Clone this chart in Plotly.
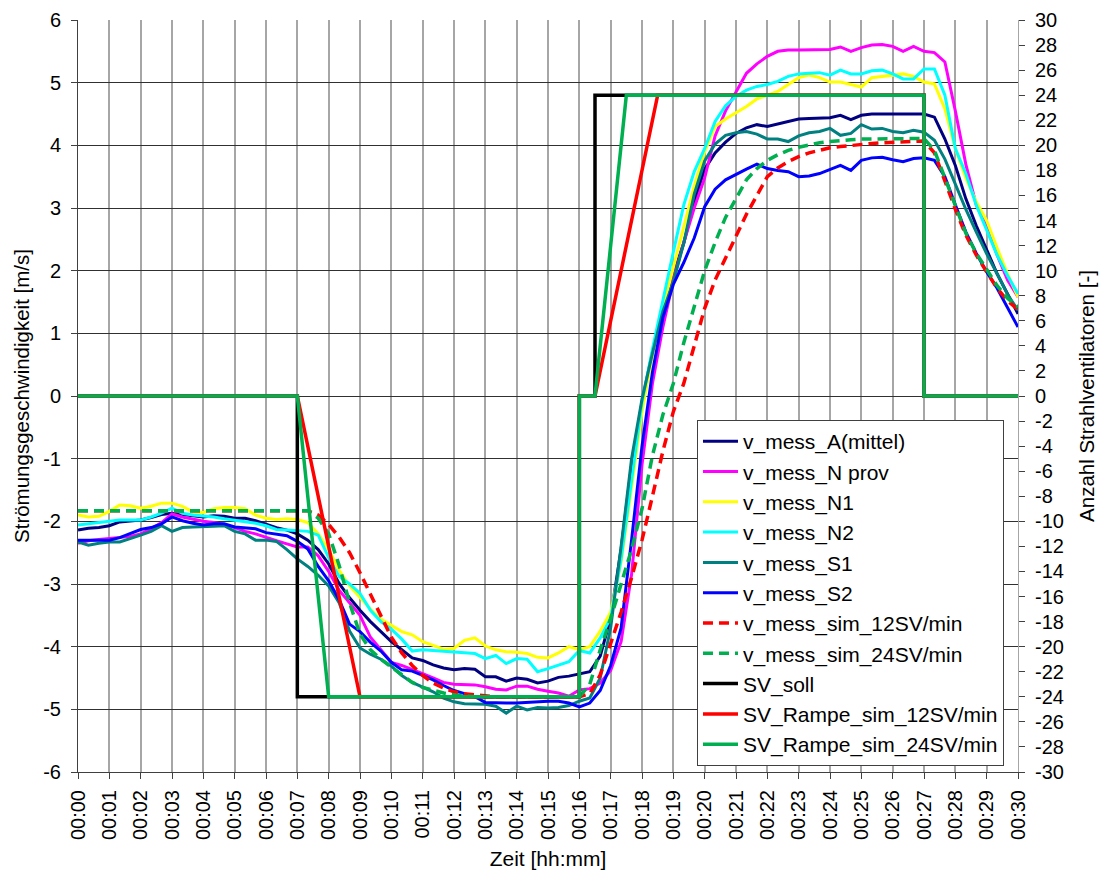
import plotly.graph_objects as go

# time base: one sample every 20 s, expressed in minutes
zeit_s = list(range(0, 1801, 20))
zeit_min = [s / 60 for s in zeit_s]

tick_minutes = list(range(31))
tick_labels = ["00:00", "00:01", "00:02", "00:03", "00:04", "00:05", "00:06", "00:07",
               "00:08", "00:09", "00:10", "00:11", "00:12", "00:13", "00:14", "00:15",
               "00:16", "00:17", "00:18", "00:19", "00:20", "00:21", "00:22", "00:23",
               "00:24", "00:25", "00:26", "00:27", "00:28", "00:29", "00:30"]

# left axis ticks [m/s] and right axis ticks [-], written with plain hyphens
v_ticks = [-6, -5, -4, -3, -2, -1, 0, 1, 2, 3, 4, 5, 6]
v_tick_labels = ["-6", "-5", "-4", "-3", "-2", "-1", "0", "1", "2", "3", "4", "5", "6"]
sv_ticks = [-30, -28, -26, -24, -22, -20, -18, -16, -14, -12, -10, -8, -6, -4, -2, 0,
            2, 4, 6, 8, 10, 12, 14, 16, 18, 20, 22, 24, 26, 28, 30]
sv_tick_labels = ["-30", "-28", "-26", "-24", "-22", "-20", "-18", "-16", "-14", "-12",
                  "-10", "-8", "-6", "-4", "-2", "0", "2", "4", "6", "8", "10", "12",
                  "14", "16", "18", "20", "22", "24", "26", "28", "30"]

# measured flow velocities [m/s]
v_mess_A = [
    -2.14, -2.11, -2.10, -2.07, -2.01, -1.99, -1.98, -1.94, -1.89, -1.87, -1.89, -1.91,
    -1.93, -1.91, -1.92, -1.95, -1.95, -1.99, -2.05, -2.10, -2.14, -2.20, -2.30, -2.45,
    -2.68, -2.99, -3.22, -3.42, -3.60, -3.76, -3.92, -4.05, -4.18, -4.22, -4.29, -4.34,
    -4.37, -4.35, -4.36, -4.48, -4.48, -4.55, -4.50, -4.52, -4.58, -4.55, -4.49, -4.47,
    -4.44, -4.40, -4.15, -3.54, -2.44, -1.10, -0.10, 0.70, 1.40, 1.95, 2.44, 3.10,
    3.62, 3.88, 4.05, 4.19, 4.28, 4.33, 4.30, 4.34, 4.39, 4.42, 4.43, 4.44,
    4.44, 4.48, 4.41, 4.48, 4.50, 4.50, 4.50, 4.50, 4.50, 4.50, 4.45, 4.10,
    3.68, 3.15, 2.72, 2.32, 1.95, 1.63, 1.31]

v_mess_N_prov = [
    -2.35, -2.31, -2.29, -2.27, -2.26, -2.24, -2.20, -2.12, -2.02, -1.88, -1.93, -1.97,
    -2.00, -2.02, -2.05, -2.10, -2.16, -2.20, -2.26, -2.31, -2.36, -2.41, -2.41, -2.55,
    -2.80, -3.10, -3.30, -3.50, -3.85, -4.05, -4.25, -4.30, -4.36, -4.43, -4.50, -4.57,
    -4.60, -4.60, -4.61, -4.64, -4.68, -4.69, -4.63, -4.63, -4.68, -4.71, -4.74, -4.79,
    -4.69, -4.67, -4.58, -4.38, -3.92, -2.85, -1.10, 0.20, 1.10, 1.85, 2.45, 3.00,
    3.48, 4.15, 4.55, 4.85, 5.15, 5.30, 5.42, 5.50, 5.52, 5.52, 5.52, 5.52,
    5.53, 5.57, 5.50, 5.56, 5.60, 5.61, 5.58, 5.50, 5.58, 5.50, 5.48, 5.33,
    4.55, 3.70, 3.05, 2.70, 2.25, 1.85, 1.58]

v_mess_N1 = [
    -1.90, -1.93, -1.92, -1.84, -1.74, -1.75, -1.79, -1.76, -1.71, -1.71, -1.76, -1.85,
    -1.86, -1.80, -1.78, -1.78, -1.80, -1.90, -1.95, -1.97, -1.96, -1.97, -2.02, -2.20,
    -2.45, -2.78, -3.03, -3.22, -3.40, -3.56, -3.66, -3.76, -3.81, -3.92, -3.98, -4.04,
    -4.03, -3.90, -3.86, -3.99, -4.05, -4.08, -4.09, -4.11, -4.17, -4.18, -4.10, -4.00,
    -4.05, -4.00, -3.75, -3.45, -2.65, -1.45, -0.25, 0.65, 1.40, 2.05, 2.70, 3.35,
    3.90, 4.30, 4.42, 4.52, 4.62, 4.74, 4.80, 4.86, 4.97, 5.08, 5.12, 5.08,
    5.01, 5.01, 4.97, 4.93, 5.08, 5.10, 5.12, 5.14, 5.10, 5.01, 4.98, 4.58,
    3.95, 3.48, 3.10, 2.80, 2.36, 1.95, 1.58]

v_mess_N2 = [
    -2.06, -2.04, -2.02, -2.00, -1.98, -1.98, -1.98, -1.93, -1.87, -1.79, -1.87, -1.90,
    -1.91, -1.93, -1.96, -1.98, -2.00, -2.03, -2.07, -2.13, -2.14, -2.15, -2.16, -2.22,
    -2.58, -2.88, -3.00, -3.15, -3.42, -3.60, -3.72, -3.88, -4.07, -4.05, -4.06, -4.08,
    -4.09, -4.09, -4.11, -4.19, -4.14, -4.27, -4.19, -4.20, -4.40, -4.35, -4.29, -4.24,
    -4.06, -4.10, -3.86, -3.54, -2.60, -1.35, -0.10, 0.75, 1.55, 2.30, 3.05, 3.58,
    3.95, 4.38, 4.63, 4.78, 4.88, 4.94, 4.97, 5.02, 5.10, 5.14, 5.15, 5.16,
    5.12, 5.20, 5.14, 5.14, 5.19, 5.20, 5.14, 5.06, 5.06, 5.22, 5.22, 4.80,
    3.95, 3.55, 3.05, 2.65, 2.25, 1.92, 1.63]

v_mess_S1 = [
    -2.33, -2.38, -2.35, -2.33, -2.33, -2.28, -2.22, -2.16, -2.07, -2.16, -2.10, -2.09,
    -2.09, -2.08, -2.07, -2.16, -2.20, -2.30, -2.30, -2.32, -2.45, -2.60, -2.72, -2.86,
    -3.03, -3.30, -3.75, -4.02, -4.12, -4.20, -4.31, -4.46, -4.57, -4.64, -4.72, -4.82,
    -4.88, -4.91, -4.92, -4.92, -4.95, -5.06, -4.95, -5.01, -4.97, -4.98, -4.97, -4.94,
    -4.87, -4.82, -4.50, -3.70, -2.40, -1.00, -0.05, 0.68, 1.35, 1.82, 2.44, 3.22,
    3.75, 4.02, 4.16, 4.20, 4.22, 4.18, 4.10, 4.10, 4.06, 4.15, 4.20, 4.22,
    4.27, 4.16, 4.19, 4.33, 4.26, 4.27, 4.22, 4.20, 4.24, 4.21, 4.08, 3.78,
    3.38, 2.98, 2.62, 2.27, 1.95, 1.62, 1.37]

v_mess_S2 = [
    -2.30, -2.30, -2.30, -2.30, -2.26, -2.20, -2.13, -2.10, -2.04, -1.93, -1.99, -2.03,
    -2.06, -2.04, -2.04, -2.09, -2.10, -2.12, -2.18, -2.20, -2.23, -2.32, -2.44, -2.72,
    -2.95, -3.25, -3.64, -3.76, -3.93, -4.07, -4.25, -4.37, -4.39, -4.46, -4.53, -4.62,
    -4.70, -4.75, -4.80, -4.89, -4.90, -4.90, -4.90, -4.89, -4.87, -4.87, -4.87, -4.90,
    -4.96, -4.90, -4.70, -4.30, -3.70, -2.30, -0.80, 0.38, 1.25, 1.78, 2.13, 2.52,
    3.02, 3.30, 3.45, 3.54, 3.62, 3.70, 3.63, 3.60, 3.58, 3.50, 3.51, 3.55,
    3.62, 3.68, 3.60, 3.76, 3.80, 3.81, 3.77, 3.74, 3.79, 3.80, 3.76, 3.50,
    3.05, 2.62, 2.28, 1.98, 1.72, 1.40, 1.10]

# simulated velocities [m/s]
v_sim_12 = [
    -1.83, -1.83, -1.83, -1.83, -1.83, -1.83, -1.83, -1.83, -1.83, -1.83, -1.83, -1.83,
    -1.83, -1.83, -1.83, -1.83, -1.83, -1.83, -1.83, -1.83, -1.83, -1.83, -1.83, -1.90,
    -2.05, -2.25, -2.50, -2.82, -3.17, -3.52, -3.85, -4.10, -4.30, -4.46, -4.58, -4.66,
    -4.72, -4.75, -4.77, -4.79, -4.80, -4.80, -4.80, -4.80, -4.80, -4.80, -4.80, -4.80,
    -4.80, -4.75, -4.45, -3.95, -3.45, -2.90, -2.30, -1.60, -0.88, -0.25, 0.20, 0.80,
    1.40, 1.85, 2.20, 2.55, 2.90, 3.20, 3.50, 3.64, 3.74, 3.82, 3.88, 3.92,
    3.96, 3.98, 4.00, 4.02, 4.03, 4.04, 4.05, 4.06, 4.06, 4.07, 3.88, 3.42,
    2.98, 2.57, 2.25, 1.98, 1.72, 1.52, 1.38]

v_sim_24 = [
    -1.83, -1.83, -1.83, -1.83, -1.83, -1.83, -1.83, -1.83, -1.83, -1.83, -1.83, -1.83,
    -1.83, -1.83, -1.83, -1.83, -1.83, -1.83, -1.83, -1.83, -1.83, -1.83, -1.83, -1.95,
    -2.20, -2.70, -3.30, -3.80, -4.05, -4.20, -4.32, -4.45, -4.57, -4.65, -4.70, -4.74,
    -4.77, -4.79, -4.80, -4.80, -4.80, -4.80, -4.80, -4.80, -4.80, -4.80, -4.80, -4.80,
    -4.80, -4.60, -4.05, -3.55, -3.00, -2.45, -1.80, -0.95, -0.30, 0.20, 0.85, 1.45,
    2.00, 2.45, 2.85, 3.15, 3.45, 3.63, 3.76, 3.85, 3.92, 3.97, 4.01, 4.04,
    4.06, 4.08, 4.09, 4.10, 4.10, 4.11, 4.11, 4.11, 4.11, 4.11, 3.92, 3.47,
    3.02, 2.60, 2.28, 2.01, 1.76, 1.56, 1.42]

# number of jet fans (right axis), given at breakpoints in minutes
sv_soll_t = [0, 7, 7, 16, 16, 16.5, 16.5, 27, 27, 30]
sv_soll = [0, 0, -24, -24, 0, 0, 24, 24, 0, 0]
sv_12_t = [0, 7, 9, 16, 16, 16.5, 18.5, 27, 27, 30]
sv_12 = [0, 0, -24, -24, 0, 0, 24, 24, 0, 0]
sv_24_t = [0, 7, 8, 16, 16, 16.5, 17.5, 27, 27, 30]
sv_24 = [0, 0, -24, -24, 0, 0, 24, 24, 0, 0]

FONT = "Liberation Sans, Arial, sans-serif"
fig = go.Figure()

velocity_series = [
    ("v_mess_A(mittel)", v_mess_A, "#000080", "solid"),
    ("v_mess_N prov", v_mess_N_prov, "#FF00FF", "solid"),
    ("v_mess_N1", v_mess_N1, "#FFFF00", "solid"),
    ("v_mess_N2", v_mess_N2, "#00FFFF", "solid"),
    ("v_mess_S1", v_mess_S1, "#008080", "solid"),
    ("v_mess_S2", v_mess_S2, "#0000FF", "solid"),
    ("v_mess_sim_12SV/min", v_sim_12, "#FF0000", "10px,6px"),
    ("v_mess_sim_24SV/min", v_sim_24, "#00B050", "10px,6px"),
]
for name, vals, color, dash in velocity_series:
    fig.add_trace(go.Scatter(
        x=zeit_min, y=vals, name=name, mode="lines", legendgroup=name,
        line=dict(color=color, width=3.5 if dash != "solid" else 3, dash=dash),
    ))

fan_series = [
    ("SV_soll", sv_soll_t, sv_soll, "#000000"),
    ("SV_Rampe_sim_12SV/min", sv_12_t, sv_12, "#FF0000"),
    ("SV_Rampe_sim_24SV/min", sv_24_t, sv_24, "#00B050"),
]
for name, tt, vals, color in fan_series:
    fig.add_trace(go.Scatter(
        x=tt, y=vals, name=name, mode="lines", yaxis="y2", legendgroup=name,
        line=dict(color=color, width=3.5),
    ))

fig.update_layout(
    width=1106, height=884,
    margin=dict(l=78, r=88, t=20, b=112),
    paper_bgcolor="white", plot_bgcolor="white",
    font=dict(family=FONT, size=20, color="black"),
    showlegend=True,
    legend=dict(
        x=0.6585, y=0.468, xanchor="left", yanchor="top",
        bgcolor="white", bordercolor="#404040", borderwidth=1,
        font=dict(family=FONT, size=21, color="black"),
        tracegroupgap=0, itemwidth=35,
    ),
    xaxis=dict(
        range=[0, 30], tickmode="array", tickvals=tick_minutes, ticktext=tick_labels,
        tickangle=-90, ticks="outside", ticklen=6, tickcolor="#404040",
        ticklabelstandoff=3, automargin=False,
        showgrid=True, gridcolor="#A6A6A6", gridwidth=2,
        showline=True, linecolor="#404040", linewidth=1, zeroline=False,
        title=dict(text="Zeit [hh:mm]", font=dict(family=FONT, size=21), standoff=12),
        tickfont=dict(family=FONT, size=20),
    ),
    yaxis=dict(
        range=[-6, 6], tickmode="array", tickvals=v_ticks, ticktext=v_tick_labels,
        ticks="outside", ticklen=6, tickcolor="#404040", ticklabelstandoff=6,
        automargin=False,
        showgrid=True, gridcolor="#303030", gridwidth=1,
        showline=True, linecolor="#404040", linewidth=1, zeroline=False,
        title=dict(text="Strömungsgeschwindigkeit [m/s]", font=dict(family=FONT, size=20.5), standoff=8),
        tickfont=dict(family=FONT, size=20),
    ),
    yaxis2=dict(
        range=[-30, 30], tickmode="array", tickvals=sv_ticks, ticktext=sv_tick_labels,
        overlaying="y", side="right", automargin=False,
        ticks="outside", ticklen=6, tickcolor="#404040", ticklabelstandoff=6,
        showgrid=False, showline=True, linecolor="#A6A6A6", linewidth=1, zeroline=False,
        title=dict(text="Anzahl Strahlventilatoren [-]", font=dict(family=FONT, size=20.5), standoff=16),
        tickfont=dict(family=FONT, size=20),
    ),
)

fig.write_html("out.html")
